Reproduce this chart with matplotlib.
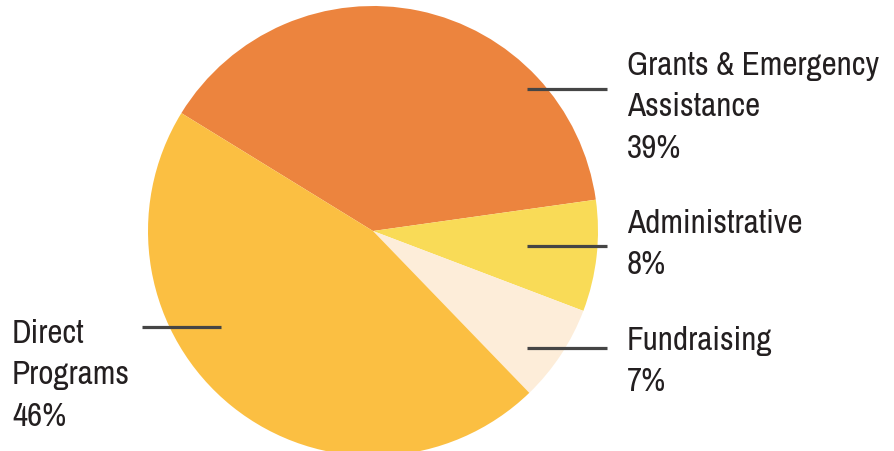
import matplotlib
matplotlib.use("Agg")
import matplotlib.pyplot as plt
from matplotlib import font_manager
from matplotlib.font_manager import FontProperties

categories = ["Grants & Emergency\nAssistance", "Administrative", "Fundraising", "Direct\nPrograms"]
values = [39, 8, 7, 46]
pct_labels = ["39%", "8%", "7%", "46%"]
colors = ["#EC843E", "#F9DB57", "#FDEDD9", "#FBBF42"]

# pick the narrowest available regular font
cands = []
for f in font_manager.fontManager.ttflist:
    nm = f.name
    fn = f.fname.lower()
    if f.style != "normal":
        continue
    w = f.weight if isinstance(f.weight, int) else 400
    if w < 350 or w > 500:
        continue
    score = None
    if "narrow" in nm.lower() or "narrow" in fn:
        score = 0
    elif "condensed" in fn or "condensed" in nm.lower() or str(f.stretch) in ("condensed", "semi-condensed", "extra-condensed"):
        score = 1
    if score is not None:
        cands.append((score, f.fname))
cands.sort()
fp = FontProperties(fname=cands[0][1]) if cands else FontProperties(family="DejaVu Sans")

W, H = 894, 452
fig = plt.figure(figsize=(W / 100, H / 100), dpi=100)
ax = fig.add_axes([0, 0, 1, 1])

cx, cy, r = 373, H - 232, 225
ax.pie(values, colors=colors, startangle=148.4, counterclock=False,
       center=(cx, cy), radius=r, frame=True,
       wedgeprops=dict(linewidth=0))
ax.set_xlim(0, W)
ax.set_ylim(0, H)
ax.set_aspect("equal")
ax.axis("off")

# fit font size so the widest line spans ~250 px
renderer = fig.canvas.get_renderer()
fs = 27
probe = ax.text(0, 0, "Grants & Emergency", fontproperties=fp, fontsize=fs)
wpx = probe.get_window_extent(renderer).width
probe.remove()
if wpx > 252:
    fs = fs * 252 / wpx

layout = [
    ((527, 607, 90), 627, 75),
    ((527, 607, 247), 627, 233),
    ((527, 607, 349), 627, 350),
    ((142, 221, 328), 12, 343),
]
line_gap = 41.5
for cat, pct, ((x0, x1, ly), tx, by) in zip(categories, pct_labels, layout):
    ax.plot([x0, x1], [H - ly, H - ly], color="#454545", lw=2.3, solid_capstyle="butt")
    lines = cat.split("\n") + [pct]
    for i, t in enumerate(lines):
        ax.text(tx, H - (by + i * line_gap), t, fontproperties=fp, fontsize=fs,
                color="#231F20", ha="left", va="baseline")

fig.savefig("out.png", dpi=100)
